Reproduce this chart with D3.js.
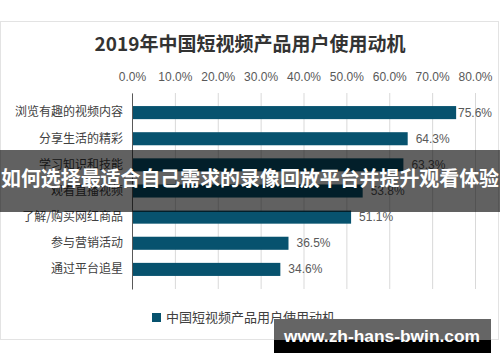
<!DOCTYPE html>
<html>
<head>
<meta charset="utf-8">
<script src="https://cdn.jsdelivr.net/npm/d3@7"></script>
<style>
  body { margin: 0; background: #fff; }
  svg { display: block; font-family: "Noto Sans CJK SC", "Liberation Sans", sans-serif; }
</style>
</head>
<body>
<svg id="chart" width="500" height="362"></svg>
<script>
// chart data
var categories = ['浏览有趣的视频内容', '分享生活的精彩', '学习知识和技能', '观看直播视频',
                  '了解/购买网红商品', '参与营销活动', '通过平台追星'];
var values = [75.6, 64.3, 63.3, 53.8, 51.1, 36.5, 34.6];
var ticks = [0, 10, 20, 30, 40, 50, 60, 70, 80];
var title = '2019年中国短视频产品用户使用动机';
var legendLabel = '中国短视频产品用户使用动机';
var bannerText = '如何选择最适合自己需求的录像回放平台并提升观看体验';
var watermark = 'www.zh-hans-bwin.com';

var svg = d3.select('#chart');
var barColor = '#07526e';
var margin = { top: 93, left: 132, right: 25, bottom: 73 };
var width = 500, height = 362;

// outer frame
svg.append('rect')
  .attr('x', 0.5).attr('y', 21.5)
  .attr('width', 498).attr('height', 318)
  .attr('fill', '#fff').attr('stroke', '#e3e3e3');

svg.append('text')
  .attr('x', 250).attr('y', 51)
  .attr('text-anchor', 'middle')
  .attr('font-size', '19px').attr('font-weight', 'bold')
  .attr('fill', '#333')
  .text(title);

var x = d3.scaleLinear().domain([0, 80]).range([margin.left, 475]);
var y = d3.scaleBand().domain(categories).range([93, 289]).padding(0.5);

// gridlines + top tick labels
var xAxis = svg.append('g')
  .attr('transform', 'translate(0,93)')
  .call(d3.axisTop(x).tickValues(ticks).tickSize(-196)
    .tickFormat(d => d.toFixed(1) + '%'));
xAxis.select('.domain').remove();
xAxis.selectAll('.tick line').attr('stroke', '#d9d9d9');
xAxis.selectAll('.tick text')
  .attr('y', -12)
  .attr('fill', '#595959')
  .attr('font-size', '12px')
  .attr('font-family', '"Liberation Sans", sans-serif');

// bars
svg.append('g').selectAll('rect')
  .data(values)
  .enter()
  .append('rect')
  .attr('x', x(0))
  .attr('y', (d, i) => y(categories[i]))
  .attr('width', d => x(d) - x(0))
  .attr('height', y.bandwidth())
  .attr('fill', barColor);

// value labels
svg.append('g').selectAll('text')
  .data(values)
  .enter()
  .append('text')
  .attr('x', d => Math.min(x(d) + 8, 458))
  .attr('y', (d, i) => y(categories[i]) + y.bandwidth() / 2 + 4)
  .attr('fill', '#595959')
  .attr('font-size', '12px')
  .attr('font-family', '"Liberation Sans", sans-serif')
  .text(d => d.toFixed(1) + '%');

// left axis
var yAxis = svg.append('g')
  .attr('transform', 'translate(' + margin.left + ',0)')
  .call(d3.axisLeft(y).tickSize(0).tickPadding(9));
yAxis.select('.domain').attr('stroke', '#595959');
yAxis.selectAll('.tick text')
  .attr('fill', '#404040')
  .attr('font-size', '12px')
  .attr('font-family', '"Noto Sans CJK SC", sans-serif');

// legend
svg.append('rect')
  .attr('x', 152).attr('y', 313)
  .attr('width', 9).attr('height', 9)
  .attr('fill', barColor);
svg.append('text')
  .attr('x', 166).attr('y', 322)
  .attr('font-size', '13px')
  .attr('fill', '#404040')
  .text(legendLabel);

// overlay banner
svg.append('rect')
  .attr('x', 0).attr('y', 150)
  .attr('width', width).attr('height', 62)
  .attr('fill', 'rgba(0,0,0,0.62)');
svg.append('text')
  .attr('x', 1).attr('y', 186)
  .attr('font-size', '20px').attr('font-weight', 'bold')
  .attr('textLength', 498).attr('lengthAdjust', 'spacingAndGlyphs')
  .attr('fill', '#fff')
  .text(bannerText);

// watermark box
svg.append('rect')
  .attr('x', 274).attr('y', 319)
  .attr('width', 217).attr('height', 21)
  .attr('fill', '#656565');
svg.append('rect')
  .attr('x', 274).attr('y', 340)
  .attr('width', 217).attr('height', 13)
  .attr('fill', '#000');
svg.append('text')
  .attr('x', 284).attr('y', 342)
  .attr('font-size', '17px').attr('font-weight', 'bold')
  .attr('font-family', '"Liberation Sans", sans-serif')
  .attr('textLength', 196).attr('lengthAdjust', 'spacingAndGlyphs')
  .attr('fill', '#fff')
  .text(watermark);
</script>
</body>
</html>
